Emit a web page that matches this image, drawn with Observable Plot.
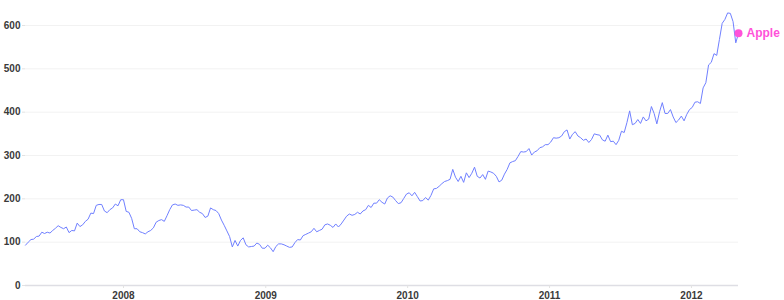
<!DOCTYPE html>
<html>
<head>
<meta charset="utf-8">
<script src="https://cdn.jsdelivr.net/npm/d3@7"></script>
<script src="https://cdn.jsdelivr.net/npm/@observablehq/plot@0.6"></script>
<style>
  html, body { margin: 0; padding: 0; background: #fff; }
  #chart { width: 784px; height: 300px; }
</style>
</head>
<body>
<div id="chart"></div>
<script>
// Apple (AAPL) weekly closes, one value per week starting 2007-04-24
const seriesName = "Apple";
const firstWeek = "2007-04-24";
const close2007 = [93,100,106,107,113,114,123,120,123,121,127,132,138,134,131,135,122,127,126,144,136,140,148,153,167,166,185,187,187,172,168,175,179,188,184,198];
const close2008 = [198,171,169,155,131,131,124,122,119,124,127,133,146,150,152,148,161,175,186,188,185,186,185,181,181,173,174,175,169,166,157,160,179,175,173,166,151,139,126,113,89,104,91,104,110,94,89,90,91,98,95,86,86];
const close2009 = [93,87,78,90,96,96,94,91,88,89,99,106,105,115,118,121,124,132,124,127,130,140,142,139,134,142,135,142,151,160,165,162,164,169,165,172,175,185,180,190,190,198,192,188,202,207,204,196,189,191,201,211];
const close2010 = [214,207,215,205,195,196,203,197,208,223,224,229,235,240,242,245,268,250,240,252,238,260,249,259,273,252,248,256,245,264,262,259,252,239,243,257,268,283,286,288,298,309,308,309,316,301,308,311,318,320,325,325];
const close2011 = [331,341,340,341,345,355,359,338,349,355,345,341,335,338,330,337,350,348,347,336,333,347,332,333,325,335,356,353,376,403,371,374,383,374,389,380,384,413,397,373,401,422,397,397,406,389,376,382,391,380,395,406];
const close2012 = [411,423,424,420,456,468,509,515,535,531,568,605,614,629,628,609,560,582];
const yTicks = [0,100,200,300,400,500,600];
const xTickYears = ["2008-01-01","2009-01-01","2010-01-01","2011-01-01","2012-01-01"];

const closes = [...close2007, ...close2008, ...close2009, ...close2010, ...close2011, ...close2012];
const start = new Date(firstWeek + "T00:00:00Z");
const data = closes.map((c, i) => ({date: d3.utcDay.offset(start, 7 * i), close: c}));
const last = [data[data.length - 1]];

const lineColor = "#7080ff";
const accent = "#ff52d9";

const chart = Plot.plot({
  width: 784,
  height: 300,
  marginLeft: 25,
  marginRight: 46,
  marginTop: 25,
  marginBottom: 15,
  style: {fontFamily: "'Liberation Sans', Arial, sans-serif", fontSize: "10px", color: "#3a3a3a", background: "#fff", overflow: "visible"},
  x: {type: "utc", domain: [data[0].date, data[data.length - 1].date]},
  y: {domain: [0, 600]},
  marks: [
    Plot.gridY(yTicks, {stroke: "#f2f2f2", strokeOpacity: 1}),
    Plot.axisY(yTicks, {tickSize: 3, tickPadding: 2, stroke: "#e2e2e2", fill: "#3a3a3a", fontWeight: "bold", label: null}),
    Plot.ruleY([0], {stroke: "#dedee4", strokeWidth: 1.6}),
    Plot.axisX(xTickYears.map(d => new Date(d + "T00:00:00Z")), {tickSize: 3, tickPadding: 3, stroke: "#e2e2e2", fill: "#3a3a3a", fontWeight: "bold", tickFormat: d3.utcFormat("%Y"), label: null}),
    Plot.lineY(data, {x: "date", y: "close", stroke: lineColor, strokeWidth: 1}),
    Plot.dot(last, {x: "date", y: "close", r: 4, fill: accent, stroke: null}),
    Plot.text(last, {x: "date", y: "close", text: () => seriesName, dx: 8, textAnchor: "start", fill: accent, fontWeight: "bold", fontSize: 12})
  ]
});
document.getElementById("chart").appendChild(chart);
</script>
</body>
</html>
